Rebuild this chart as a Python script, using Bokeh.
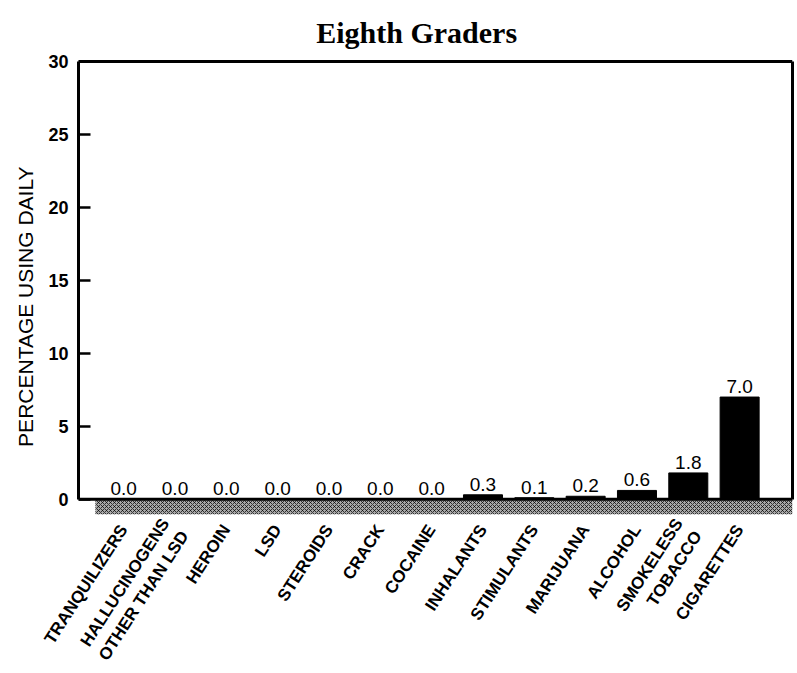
import math
from bokeh.plotting import figure
from bokeh.models import (ColumnDataSource, FixedTicker, LinearAxis, Range1d,
                          BoxAnnotation, Span, Label)
from bokeh.embed import file_html
from bokeh.resources import INLINE
from bokeh.core.properties import value

title_text = "Eighth Graders"
y_title = "PERCENTAGE USING DAILY"
categories = ["TRANQUILIZERS", "HALLUCINOGENS\nOTHER THAN LSD", "HEROIN", "LSD",
              "STEROIDS", "CRACK", "COCAINE", "INHALANTS", "STIMULANTS",
              "MARIJUANA", "ALCOHOL", "SMOKELESS\nTOBACCO", "CIGARETTES"]
daily_pct = [0.0, 0.0, 0.0, 0.0, 0.0, 0.0, 0.0, 0.3, 0.1, 0.2, 0.6, 1.8, 7.0]
y_ticks = [0, 5, 10, 15, 20, 25, 30]
y_max = 30

xs = list(range(len(categories)))
labels = ["%.1f" % v for v in daily_pct]
src = ColumnDataSource(dict(x=xs, top=daily_pct, lab=labels))

# frame extends above the 0-30 box so that the title can sit inside it
p = figure(width=795, height=670, output_backend="svg", toolbar_location=None,
           x_range=Range1d(-0.88, 13.03), y_range=Range1d(-1.05, 33.84),
           min_border_left=78, min_border_right=3, min_border_top=5,
           min_border_bottom=156, x_axis_location=None, y_axis_location=None)
p.frame_width = 714
p.frame_height = 509
p.outline_line_color = None
p.grid.visible = False
p.background_fill_color = "white"

# left axis (label padded with no-break spaces to sit lower, as in the original)
ya = LinearAxis(bounds=(0, y_max), ticker=FixedTicker(ticks=y_ticks))
ya.axis_line_width = 3
ya.axis_line_color = "black"
ya.major_tick_in = 12
ya.major_tick_out = 0
ya.major_tick_line_width = 2.5
ya.major_tick_line_color = "black"
ya.minor_tick_line_color = None
ya.major_label_text_font = "Liberation Sans"
ya.major_label_text_font_style = "bold"
ya.major_label_text_font_size = "18px"
ya.major_label_text_color = "black"
ya.major_label_standoff = 10
ya.axis_label = y_title + "\u00a0" * 16
ya.axis_label_text_font = "Liberation Sans"
ya.axis_label_text_font_style = "normal"
ya.axis_label_text_font_size = "21px"
ya.axis_label_text_color = "black"
ya.axis_label_standoff = 8
p.add_layout(ya, "left")

# right border
ra = LinearAxis(bounds=(0, y_max), ticker=FixedTicker(ticks=[]))
ra.axis_line_width = 3
ra.axis_line_color = "black"
ra.major_label_text_font_size = "0px"
ra.minor_tick_line_color = None
p.add_layout(ra, "right")

# top border of the box
p.add_layout(Span(location=y_max, dimension="width", line_color="black", line_width=3))

# x axis (labels only)
xa = LinearAxis(ticker=FixedTicker(ticks=xs),
                major_label_overrides={i: c for i, c in enumerate(categories)})
xa.axis_line_color = None
xa.major_tick_line_color = None
xa.minor_tick_line_color = None
xa.major_label_orientation = math.radians(57)
xa.major_label_text_font = "Liberation Sans"
xa.major_label_text_font_style = "bold"
xa.major_label_text_font_size = "17px"
xa.major_label_text_color = "black"
xa.major_label_standoff = 6
p.add_layout(xa, "below")

# hatched band below baseline
band = BoxAnnotation(left=-0.55, bottom=-1.05, top=0, fill_color="#a8a8a8",
                     fill_alpha=1, hatch_pattern="x", hatch_color="black",
                     hatch_scale=4, hatch_weight=1, hatch_alpha=0.7,
                     line_color=None, level="underlay")
p.add_layout(band)

p.vbar(x="x", top="top", bottom=0, width=0.76, source=src,
       fill_color="black", line_color="black")

p.add_layout(Span(location=0, dimension="width", line_color="black", line_width=3))

p.text(x="x", y="top", text="lab", source=src, text_align="center",
       text_baseline="bottom", y_offset=-4, text_font=value("Liberation Sans"),
       text_font_size="19px", text_color="black")

# chart title
p.add_layout(Label(x=6, y=y_max, x_offset=-15, y_offset=29, text=title_text,
                   text_align="center", text_baseline="alphabetic",
                   text_font="Liberation Serif", text_font_style="bold",
                   text_font_size="30px", text_color="black"))

open("out.html", "w").write(file_html(p, INLINE))
